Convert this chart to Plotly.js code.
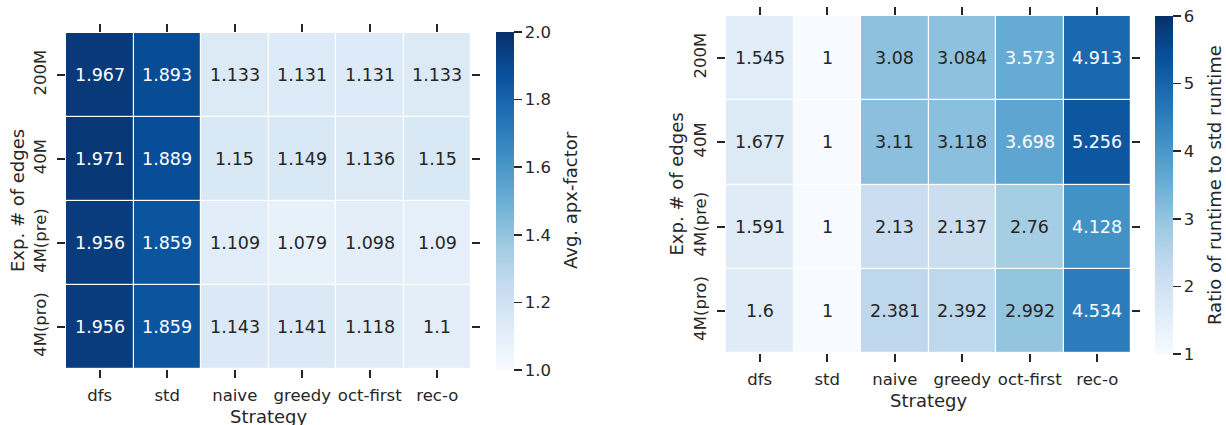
<!DOCTYPE html>
<html>
<head>
<meta charset="utf-8">
<script src="https://cdn.plot.ly/plotly-3.0.1.min.js"></script>
<style>html,body{margin:0;padding:0;background:#fff;}#chart{width:1226px;height:425px;}</style>
</head>
<body>
<div id="chart"></div>
<script>
// ---- data ----
const strategies = ['dfs', 'std', 'naive', 'greedy', 'oct-first', 'rec-o'];
const edgeSizes = ['200M', '40M', '4M(pre)', '4M(pro)'];

const apx200M = [1.967, 1.893, 1.133, 1.131, 1.131, 1.133];
const apx40M  = [1.971, 1.889, 1.15, 1.149, 1.136, 1.15];
const apx4Mpre = [1.956, 1.859, 1.109, 1.079, 1.098, 1.09];
const apx4Mpro = [1.956, 1.859, 1.143, 1.141, 1.118, 1.1];

const rt200M = [1.545, 1, 3.08, 3.084, 3.573, 4.913];
const rt40M  = [1.677, 1, 3.11, 3.118, 3.698, 5.256];
const rt4Mpre = [1.591, 1, 2.13, 2.137, 2.76, 4.128];
const rt4Mpro = [1.6, 1, 2.381, 2.392, 2.992, 4.534];

const apxTicks = [1.0, 1.2, 1.4, 1.6, 1.8, 2.0];
const rtTicks = [1, 2, 3, 4, 5, 6];

// ---- styling ----
const W = 1226, H = 425;
const DARK = '#262626';
const FONT = 'DejaVu Sans';
const bluesHex = ['#f7fbff','#deebf7','#c6dbef','#9ecae1','#6baed6','#4292c6','#2171b5','#08519c','#08306b'];
const blues = bluesHex.map((c, i) => [i / (bluesHex.length - 1), c]);

function hexToRgb(h) { return [1,3,5].map(i => parseInt(h.substr(i,2),16)); }
function cmap(t) {
  t = Math.max(0, Math.min(1, t));
  const n = bluesHex.length - 1;
  const k = Math.min(n - 1, Math.floor(t * n));
  const f = t * n - k;
  const a = hexToRgb(bluesHex[k]), b = hexToRgb(bluesHex[k+1]);
  return a.map((v, i) => v + (b[i] - v) * f);
}
function lum(rgb) {
  const c = rgb.map(v => { v /= 255; return v <= 0.03928 ? v / 12.92 : Math.pow((v + 0.055) / 1.055, 2.4); });
  return 0.2126*c[0] + 0.7152*c[1] + 0.0722*c[2];
}

const apxZ = [apx200M, apx40M, apx4Mpre, apx4Mpro];
const rtZ = [rt200M, rt40M, rt4Mpre, rt4Mpro];

function cellAnnotations(z, zmin, zmax, xr, yr) {
  const out = [];
  z.forEach((row, r) => row.forEach((v, c) => {
    const col = cmap((v - zmin) / (zmax - zmin));
    out.push({
      x: strategies[c], y: edgeSizes[r], xref: xr, yref: yr,
      text: String(v), showarrow: false,
      font: {family: FONT, size: 17.5, color: lum(col) > 0.408 ? DARK : '#ffffff'}
    });
  }));
  return out;
}

const px = x => x / W;
const py = y => 1 - y / H;

const L = {x0: 66, x1: 471, y0: 33, y1: 369};
const R = {x0: 726, x1: 1131, y0: 16, y1: 353};

const common = {
  ticks: 'outside', ticklen: 8, tickwidth: 1.8, tickcolor: DARK,
  mirror: 'ticks', showgrid: false, zeroline: false, showline: false,
  tickfont: {family: FONT, size: 16.5, color: DARK}, automargin: false,
  type: 'category'
};

const cbCommon = {
  thickness: 17.5, lenmode: 'pixels', xanchor: 'left', yanchor: 'middle',
  xpad: 0, ypad: 0, outlinewidth: 0,
  ticks: 'outside', ticklen: 8, tickwidth: 1.6, tickcolor: DARK,
  tickfont: {family: FONT, size: 16.5, color: DARK}
};

const traces = [
  {
    type: 'heatmap', x: strategies, y: edgeSizes, z: apxZ,
    zmin: 1.0, zmax: 2.0, colorscale: blues, xgap: 1.2, ygap: 1.2,
    xaxis: 'x', yaxis: 'y', hoverinfo: 'skip',
    colorbar: Object.assign({}, cbCommon, {
      x: px(496), y: py((32 + 370) / 2), len: 338,
      tickvals: apxTicks, ticktext: apxTicks.map(v => v.toFixed(1))
    })
  },
  {
    type: 'heatmap', x: strategies, y: edgeSizes, z: rtZ,
    zmin: 1, zmax: 6, colorscale: blues, xgap: 1.2, ygap: 1.2,
    xaxis: 'x2', yaxis: 'y2', hoverinfo: 'skip',
    colorbar: Object.assign({}, cbCommon, {
      x: px(1155), y: py((16 + 354) / 2), len: 338,
      tickvals: rtTicks, ticktext: rtTicks.map(String)
    })
  }
];

const titleFont = {family: FONT, size: 18, color: DARK};
const annotations = [].concat(
  cellAnnotations(apxZ, 1.0, 2.0, 'x', 'y'),
  cellAnnotations(rtZ, 1, 6, 'x2', 'y2'),
  [
    {text: 'Strategy', x: px((L.x0 + L.x1) / 2), y: py(416), xref: 'paper', yref: 'paper', showarrow: false, font: titleFont, xanchor: 'center', yanchor: 'middle'},
    {text: 'Exp. # of edges', x: px(18), y: py((L.y0 + L.y1) / 2), xref: 'paper', yref: 'paper', showarrow: false, font: titleFont, textangle: -90, xanchor: 'center', yanchor: 'middle'},
    {text: 'Avg. apx-factor', x: px(570), y: py(200), xref: 'paper', yref: 'paper', showarrow: false, font: titleFont, textangle: -90, xanchor: 'center', yanchor: 'middle'},
    {text: 'Strategy', x: px((R.x0 + R.x1) / 2), y: py(400), xref: 'paper', yref: 'paper', showarrow: false, font: titleFont, xanchor: 'center', yanchor: 'middle'},
    {text: 'Exp. # of edges', x: px(676), y: py((R.y0 + R.y1) / 2), xref: 'paper', yref: 'paper', showarrow: false, font: titleFont, textangle: -90, xanchor: 'center', yanchor: 'middle'},
    {text: 'Ratio of runtime to std runtime', x: px(1214), y: py(185), xref: 'paper', yref: 'paper', showarrow: false, font: titleFont, textangle: -90, xanchor: 'center', yanchor: 'middle'}
  ]
);

const layout = {
  width: W, height: H,
  margin: {l: 0, r: 0, t: 0, b: 0, pad: 0},
  paper_bgcolor: '#ffffff', plot_bgcolor: '#ffffff',
  font: {family: FONT, color: DARK},
  showlegend: false,
  xaxis: Object.assign({}, common, {domain: [px(L.x0), px(L.x1)], anchor: 'y', ticklabelstandoff: 3}),
  yaxis: Object.assign({}, common, {domain: [py(L.y1), py(L.y0)], anchor: 'x', autorange: 'reversed', tickangle: -90, ticklabelstandoff: 4}),
  xaxis2: Object.assign({}, common, {domain: [px(R.x0), px(R.x1)], anchor: 'y2', ticklabelstandoff: 3}),
  yaxis2: Object.assign({}, common, {domain: [py(R.y1), py(R.y0)], anchor: 'x2', autorange: 'reversed', tickangle: -90, ticklabelstandoff: 4}),
  annotations: annotations
};

Plotly.newPlot('chart', traces, layout, {staticPlot: true, displayModeBar: false});
</script>
</body>
</html>
